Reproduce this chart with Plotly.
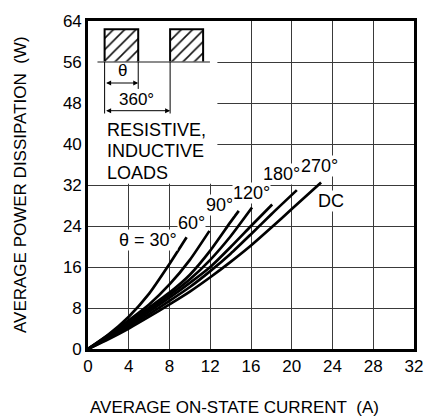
import plotly.graph_objects as go

# ---------------- data ----------------
curve_names = ["30", "60", "90", "120", "180", "270", "DC"]

x_30 = [0, 2, 4, 6, 8, 9.68]
y_30 = [0, 2.8, 6.3, 10.8, 16.6, 21.8]

x_60 = [0, 2, 4, 6, 8, 10, 11.92]
y_60 = [0, 2.7, 5.6, 8.7, 12.6, 17.4, 23.05]

x_90 = [0, 2, 4, 6, 8, 10, 12, 14, 14.8]
y_90 = [0, 2.5, 5.3, 8.1, 11.0, 14.5, 19.2, 24.8, 26.95]

x_120 = [0, 2, 4, 6, 8, 10, 12, 14, 16.1]
y_120 = [0, 2.4, 5.0, 7.7, 10.5, 13.6, 17.4, 22.0, 27.6]

x_180 = [0, 2, 4, 6, 8, 10, 12, 14, 16, 18.08]
y_180 = [0, 2.3, 4.7, 7.3, 10.0, 12.9, 16.0, 19.9, 24.0, 28.2]

x_270 = [0, 2, 4, 6, 8, 10, 12, 14, 16, 18, 20.5]
y_270 = [0, 2.1, 4.4, 6.8, 9.4, 12.1, 15.2, 18.6, 22.4, 26.3, 31.0]

x_dc = [0, 2, 4, 6, 8, 10, 12, 14, 16, 18, 20, 22.88]
y_dc = [0, 1.9, 4.0, 6.3, 8.7, 11.2, 14.0, 17.0, 20.2, 23.7, 27.3, 32.5]

curve_x = [x_30, x_60, x_90, x_120, x_180, x_270, x_dc]
curve_y = [y_30, y_60, y_90, y_120, y_180, y_270, y_dc]

label_text = ["θ = 30°", "60°", "90°", "120°", "180°", "270°", "DC"]
label_x = [5.92, 10.14, 12.88, 16.09, 19.02, 22.76, 23.87]
label_y = [21.2, 24.65, 28.1, 30.4, 34.05, 35.77, 28.87]

x_ticks = [0, 4, 8, 12, 16, 20, 24, 28, 32]
y_ticks = [0, 8, 16, 24, 32, 40, 48, 56, 64]

x_title = "AVERAGE ON-STATE CURRENT\u00a0\u00a0(A)"
y_title = "AVERAGE POWER DISSIPATION\u00a0\u00a0(W)"
load_lines = ["RESISTIVE,", "INDUCTIVE", "LOADS"]

FONT = "Liberation Sans, Arial, Helvetica, sans-serif"

fig = go.Figure()

# inset pulse diagram (decoration)
pulse_x0 = [1.63, 8.06]
pulse_x1 = [4.93, 11.30]
pulse_base = 56.0
pulse_top = 62.4
for a, b in zip(pulse_x0, pulse_x1):
    fig.add_trace(go.Scatter(
        x=[a, a, b, b], y=[pulse_base, pulse_top, pulse_top, pulse_base],
        mode="lines", fill="toself",
        fillpattern=dict(shape="/", size=8, solidity=0.2,
                         fgcolor="#111", bgcolor="white", fillmode="replace"),
        fillcolor="white",
        line=dict(color="black", width=2), hoverinfo="skip",
    ))

# curves
for cx, cy in zip(curve_x, curve_y):
    fig.add_trace(go.Scatter(x=cx, y=cy, mode="lines",
                             line=dict(color="black", width=2.7, shape="spline", smoothing=0.6),
                             hoverinfo="skip"))

shapes = [
    # white box hiding grid behind the inset
    dict(type="rect", xref="x", yref="y", x0=0, x1=12.7, y0=32.25, y1=64,
         fillcolor="white", line=dict(width=0), layer="between"),
    # baseline of pulses
    dict(type="line", xref="x", yref="y", x0=0.93, x1=11.97, y0=pulse_base, y1=pulse_base,
         line=dict(color="#666", width=1.5)),
    # leader lines
    dict(type="line", xref="x", yref="y", x0=1.63, x1=1.63, y0=pulse_base, y1=45.95,
         line=dict(color="black", width=1)),
    dict(type="line", xref="x", yref="y", x0=4.93, x1=4.93, y0=pulse_base, y1=50.75,
         line=dict(color="black", width=1)),
    dict(type="line", xref="x", yref="y", x0=8.06, x1=8.06, y0=pulse_base, y1=45.95,
         line=dict(color="black", width=1)),
]

annotations = []
# arrows
for (xa, xb, yy) in [(1.63, 4.93, 51.9), (1.63, 8.06, 46.5)]:
    annotations.append(dict(x=xb, y=yy, ax=xa, ay=yy, xref="x", yref="y",
                            axref="x", ayref="y", text="", showarrow=True,
                            arrowhead=2, arrowside="end+start", arrowsize=1,
                            arrowwidth=1, arrowcolor="black",
                            standoff=0, startstandoff=0))
annotations.append(dict(x=3.36, y=54.3, xref="x", yref="y", text="θ", showarrow=False,
                        font=dict(size=17, color="black", family=FONT)))
annotations.append(dict(x=4.8, y=48.6, xref="x", yref="y", text="360°", showarrow=False,
                        font=dict(size=17, color="black", family=FONT)))
for t, yy in zip(load_lines, [42.65, 38.56, 34.43]):
    annotations.append(dict(x=1.7, y=yy, xref="x", yref="y", text=t, showarrow=False,
                            xanchor="left", yanchor="middle",
                            font=dict(size=18, color="black", family=FONT)))
# curve labels
for t, lx, ly in zip(label_text, label_x, label_y):
    annotations.append(dict(x=lx, y=ly, xref="x", yref="y", text=t, showarrow=False,
                            bgcolor="white", borderpad=0,
                            font=dict(size=18, color="black", family=FONT)))
# axis titles
annotations.append(dict(x=0.449, y=0, xref="paper", yref="paper", yshift=-58,
                        text=x_title, showarrow=False, yanchor="middle",
                        font=dict(size=17, color="black", family=FONT)))
annotations.append(dict(x=0, y=0.5, xref="paper", yref="paper", xshift=-68,
                        text=y_title, showarrow=False, textangle=-90, xanchor="center",
                        font=dict(size=17, color="black", family=FONT)))

axis_common = dict(showgrid=True, gridcolor="#3a3a3a", gridwidth=1,
                   showline=True, linecolor="black", linewidth=2.6, mirror=True,
                   zeroline=False, ticks="", fixedrange=True,
                   tickfont=dict(size=17, color="black", family=FONT))

fig.update_layout(
    width=435, height=417, autosize=False,
    margin=dict(l=88, r=13, t=16, b=68),
    paper_bgcolor="white", plot_bgcolor="white",
    showlegend=False,
    shapes=shapes, annotations=annotations,
    font=dict(family=FONT, color="black"),
    xaxis=dict(range=[0, 32], tickvals=x_ticks, ticktext=[str(v) for v in x_ticks], **axis_common),
    yaxis=dict(range=[0, 64], tickvals=y_ticks, ticktext=[str(v) for v in y_ticks], **axis_common),
)

fig.write_html("out.html", config={"displayModeBar": False},
               post_script="document.body.style.margin='0';document.body.style.overflow='hidden';")
